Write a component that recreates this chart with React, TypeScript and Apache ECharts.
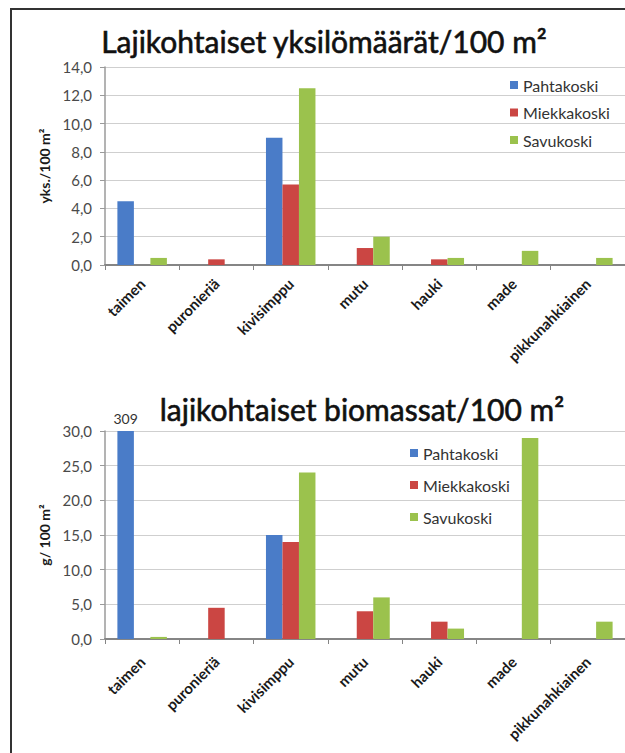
import React, { useEffect, useRef } from "react";
import * as echarts from "echarts";

const categories = ["taimen", "puronieriä", "kivisimppu", "mutu", "hauki", "made", "pikkunahkiainen"];
const seriesNames = ["Pahtakoski", "Miekkakoski", "Savukoski"];
const seriesColors = ["#4a7cc8", "#cb4643", "#9bc24d"];

const countPahtakoski = [4.5, 0, 9.0, 0, 0, 0, 0];
const countMiekkakoski = [0, 0.4, 5.7, 1.2, 0.4, 0, 0];
const countSavukoski = [0.5, 0, 12.5, 2.0, 0.5, 1.0, 0.5];

const biomassPahtakoski = [309, 0, 15.0, 0, 0, 0, 0];
const biomassMiekkakoski = [0, 4.5, 14.0, 4.0, 2.5, 0, 0];
const biomassSavukoski = [0.3, 0, 24.0, 6.0, 1.5, 29.0, 2.5];

const countAxisMax = 14;
const countAxisInterval = 2;
const biomassAxisMax = 30;
const biomassAxisInterval = 5;

const title1 = "Lajikohtaiset yksilömäärät/100 m²";
const title2 = "lajikohtaiset biomassat/100 m²";
const yName1 = "yks./100 m²";
const yName2 = "g/ 100 m²";

const FONT = "Lato, 'Open Sans', sans-serif";

export default function App() {
  const ref = useRef<HTMLDivElement>(null);
  useEffect(() => {
    if (!ref.current) return;
    const chart = echarts.init(ref.current, undefined, { renderer: "svg" });

    const fmt = (v: number) => v.toFixed(1).replace(".", ",");

    const xAxisBase = (gridIndex: number, margin: number) => ({
      type: "category" as const,
      gridIndex,
      data: categories,
      boundaryGap: true,
      axisLine: { show: true, lineStyle: { color: "#858585", width: 2 } },
      axisTick: { show: true, alignWithLabel: false, length: 5, lineStyle: { color: "#858585", width: 1 } },
      axisLabel: {
        interval: 0,
        rotate: 45,
        margin,
        fontFamily: FONT,
        fontSize: 15,
        fontWeight: "bold" as const,
        color: "#1a1a1a",
      },
      splitLine: { show: false },
    });

    const yAxisBase = (gridIndex: number, max: number, interval: number, name: string) => ({
      type: "value" as const,
      gridIndex,
      min: 0,
      max,
      interval,
      name,
      nameLocation: "middle" as const,
      nameGap: 50,
      nameRotate: 90,
      nameTextStyle: { fontFamily: FONT, fontSize: 14, fontWeight: "bold" as const, color: "#1a1a1a" },
      axisLine: { show: true, lineStyle: { color: "#9a9a9a", width: 1.5 } },
      axisTick: { show: true, length: 5, lineStyle: { color: "#9a9a9a" } },
      axisLabel: {
        margin: 13,
        fontFamily: FONT,
        fontSize: 15,
        color: "#4a4a4a",
        formatter: (v: number) => fmt(v),
      },
      splitLine: { show: true, lineStyle: { color: "#cfcfcf", width: 1 } },
    });

    const countData = [countPahtakoski, countMiekkakoski, countSavukoski];
    const biomassData = [biomassPahtakoski, biomassMiekkakoski, biomassSavukoski];

    const series: any[] = [];
    countData.forEach((arr, i) => {
      series.push({
        type: "bar",
        name: seriesNames[i],
        xAxisIndex: 0,
        yAxisIndex: 0,
        data: arr,
        barWidth: 16.5,
        barGap: "0%",
        itemStyle: { color: seriesColors[i] },
      });
    });
    biomassData.forEach((arr, i) => {
      series.push({
        type: "bar",
        name: seriesNames[i],
        xAxisIndex: 1,
        yAxisIndex: 1,
        data: arr.map((v) =>
          v > biomassAxisMax
            ? {
                value: biomassAxisMax,
                label: {
                  show: true,
                  position: "top",
                  distance: 6,
                  formatter: String(v),
                  fontFamily: FONT,
                  fontSize: 14,
                  color: "#333",
                },
              }
            : v
        ),
        barWidth: 16.5,
        barGap: "0%",
        itemStyle: { color: seriesColors[i] },
      });
    });

    const titleStyle = {
      fontFamily: FONT,
      fontSize: 30,
      fontWeight: "normal" as const,
      color: "#111",
      textBorderColor: "#111",
      textBorderWidth: 0.6,
    };
    const legendText = { fontFamily: FONT, fontSize: 16, color: "#333" };

    chart.setOption({
      animation: false,
      backgroundColor: "#ffffff",
      title: [
        { text: title1, left: 324, top: 26, textAlign: "center", padding: 0, textStyle: titleStyle },
        { text: title2, left: 362, top: 394, textAlign: "center", padding: 0, textStyle: titleStyle },
      ],
      legend: [
        {
          data: seriesNames,
          orient: "vertical",
          left: 510,
          top: 77,
          itemWidth: 8,
          itemHeight: 8,
          itemGap: 11.5,
          icon: "rect",
          padding: 0,
          textStyle: legendText,
        },
        {
          data: seriesNames,
          orient: "vertical",
          left: 410,
          top: 445,
          itemWidth: 8,
          itemHeight: 8,
          itemGap: 16,
          icon: "rect",
          padding: 0,
          textStyle: legendText,
        },
      ],
      grid: [
        { left: 105, top: 67, width: 522, height: 198 },
        { left: 105, top: 431, width: 522, height: 208 },
      ],
      xAxis: [xAxisBase(0, 16), xAxisBase(1, 20)],
      yAxis: [
        yAxisBase(0, countAxisMax, countAxisInterval, yName1),
        yAxisBase(1, biomassAxisMax, biomassAxisInterval, yName2),
      ],
      graphic: [
        {
          type: "rect",
          silent: true,
          z: 100,
          shape: { x: 11, y: 9, width: 720, height: 820 },
          style: { fill: "none", stroke: "#333", lineWidth: 2 },
        },
      ],
      series,
    });

    return () => chart.dispose();
  }, []);

  return (
    <div
      ref={ref}
      style={{ position: "fixed", left: 0, top: 0, width: 625, height: 753, background: "#fff" }}
    />
  );
}
